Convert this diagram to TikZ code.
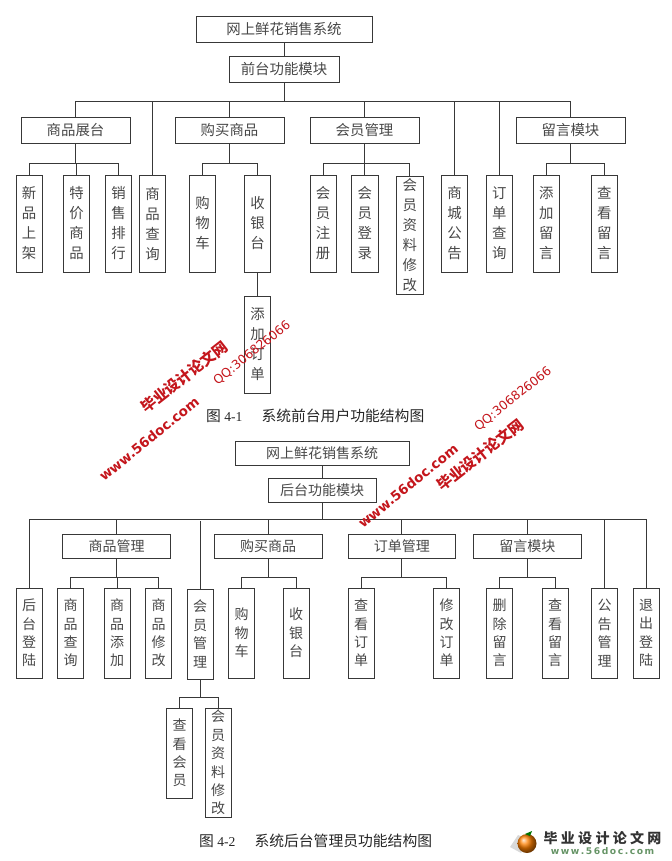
\documentclass[tikz,border=0pt]{standalone}
\usepackage{fontspec}
\setmainfont{Liberation Serif}
\newfontfamily\cjk{Noto Sans CJK SC}
\newfontfamily\wm{DejaVu Sans}
\usetikzlibrary{calc}
\definecolor{ink}{gray}{0.22}
\definecolor{txt}{gray}{0.28}
\definecolor{wred}{HTML}{C4161C}
\tikzset{
  x=1bp,y=-1bp,
  box/.style={draw=ink,line width=0.95bp,inner sep=0pt,align=center,text=txt,font=\cjk\fontsize{14.4bp}{20bp}\selectfont},
  smallbox/.style={box,font=\cjk\fontsize{14bp}{18.4bp}\selectfont},
  link/.style={draw=ink,line width=0.95bp},
  figcap/.style={inner sep=0pt,anchor=west,text=black!85,font=\fontsize{13.6bp}{16bp}\selectfont},
  wmcn/.style={inner sep=0pt,rotate=38,text=wred,font=\cjk\bfseries\fontsize{15bp}{16bp}\selectfont},
  wmweb/.style={inner sep=0pt,rotate=39,text=wred,font=\wm\bfseries\fontsize{13.5bp}{14bp}\selectfont},
  wmqq/.style={inner sep=0pt,rotate=39,text=wred,font=\wm\fontsize{12.4bp}{13bp}\selectfont},
}
% \bx[style]{name}{x1}{y1}{x2}{y2}{text}
\newcommand{\bx}[7][box]{%
  \node[#1,minimum width=#5bp-#3bp,minimum height=#6bp-#4bp] (#2) at ({(#3+#5)/2},{(#4+#6)/2}) {#7};}
% \tree{parent}{child}{bus y}
\newcommand{\tree}[3]{\draw[link] (#1.south) -- (#1.south |- 0,#3) -| (#2.north);}
\newcommand{\capcjk}[1]{{\cjk\fontsize{14.8bp}{16bp}\selectfont #1}}
\begin{document}
\begin{tikzpicture}
\useasboundingbox (0,0) rectangle (672,861);
% ---------- figure 4-1
\bx{tA}{196}{16}{372}{42}{网上鲜花销售系统}
\bx{tB}{229}{56}{339}{82}{前台功能模块}
\bx{a1}{21}{117}{130}{143}{商品展台}
\bx{a2}{175}{117}{284}{143}{购买商品}
\bx{a3}{310}{117}{419}{143}{会员管理}
\bx{a4}{516}{117}{625}{143}{留言模块}
\bx{b1}{16}{175}{42}{272}{新\\品\\上\\架}
\bx{b2}{63.5}{175}{89.5}{272}{特\\价\\商\\品}
\bx{b3}{105.5}{175}{131.5}{272}{销\\售\\排\\行}
\bx{b4}{139.5}{175}{165.5}{272}{商\\品\\查\\询}
\bx{b5}{189.5}{175}{215.5}{272}{购\\物\\车}
\bx{b6}{244.5}{175}{270.5}{272}{收\\银\\台}
\bx{b7}{310}{175}{336}{272}{会\\员\\注\\册}
\bx{b8}{351.5}{175}{378}{272}{会\\员\\登\\录}
\bx{b9}{396.5}{176}{423}{294}{会\\员\\资\\料\\修\\改}
\bx{b10}{441.5}{175}{467.5}{272}{商\\城\\公\\告}
\bx{b11}{486}{175}{512.5}{272}{订\\单\\查\\询}
\bx{b12}{533}{175}{559.5}{272}{添\\加\\留\\言}
\bx{b13}{591}{175}{617.5}{272}{查\\看\\留\\言}
\bx{c1}{244.5}{296}{270.5}{393}{添\\加\\订\\单}
\draw[link] (tA) -- (tB);
\foreach \c in {a1,a2,a3,a4,b4,b10,b11} {\tree{tB}{\c}{101}}
\foreach \c in {b1,b2,b3} {\tree{a1}{\c}{163}}
\foreach \c in {b5,b6} {\tree{a2}{\c}{163}}
\foreach \c in {b7,b8,b9} {\tree{a3}{\c}{163}}
\foreach \c in {b12,b13} {\tree{a4}{\c}{163}}
\draw[link] (b6) -- (c1);
\node[figcap] (capA) at (206,416) {\capcjk{图} 4-1\hspace{19bp}\capcjk{系统前台用户功能结构图}};
% ---------- figure 4-2
\bx[smallbox]{uA}{235}{441}{409}{465}{网上鲜花销售系统}
\bx[smallbox]{uB}{268}{478}{376}{502}{后台功能模块}
\bx[smallbox]{d1}{62.5}{534.5}{170.5}{558.5}{商品管理}
\bx[smallbox]{d2}{214}{534.5}{322}{558.5}{购买商品}
\bx[smallbox]{d3}{348}{534.5}{455.5}{558.5}{订单管理}
\bx[smallbox]{d4}{473}{534.5}{581.5}{558.5}{留言模块}
\bx[smallbox]{e1}{16}{588}{42}{678}{后\\台\\登\\陆}
\bx[smallbox]{e2}{57.5}{588}{83.5}{678}{商\\品\\查\\询}
\bx[smallbox]{e3}{104}{588}{130}{678}{商\\品\\添\\加}
\bx[smallbox]{e4}{145.5}{588}{171.5}{678}{商\\品\\修\\改}
\bx[smallbox]{e5}{187}{589}{213}{679}{会\\员\\管\\理}
\bx[smallbox]{e6}{228.5}{588}{254.5}{678}{购\\物\\车}
\bx[smallbox]{e7}{283}{588}{309}{678}{收\\银\\台}
\bx[smallbox]{e8}{348}{588}{374}{678}{查\\看\\订\\单}
\bx[smallbox]{e9}{433.5}{588}{459.5}{678}{修\\改\\订\\单}
\bx[smallbox]{e10}{486.5}{588}{512.5}{678}{删\\除\\留\\言}
\bx[smallbox]{e11}{542}{588}{568}{678}{查\\看\\留\\言}
\bx[smallbox]{e12}{591.5}{588}{617.5}{678}{公\\告\\管\\理}
\bx[smallbox]{e13}{633}{588}{659}{678}{退\\出\\登\\陆}
\bx[smallbox]{f1}{166.5}{708}{192.5}{798}{查\\看\\会\\员}
\bx[smallbox]{f2}{205}{708}{231}{817}{会\\员\\资\\料\\修\\改}
\draw[link] (uA) -- (uB);
\foreach \c in {e1,d1,d2,d3,d4,e12,e13} {\tree{uB}{\c}{519}}
\coordinate (mgrTop) at (200,521);
\draw[link] (mgrTop) -- (e5);
\foreach \c in {e2,e3,e4} {\tree{d1}{\c}{577}}
\foreach \c in {e6,e7} {\tree{d2}{\c}{577}}
\foreach \c in {e8,e9} {\tree{d3}{\c}{577}}
\foreach \c in {e10,e11} {\tree{d4}{\c}{577}}
\foreach \c in {f1,f2} {\tree{e5}{\c}{697}}
\node[figcap] (capB) at (199,841) {\capcjk{图} 4-2\hspace{19bp}\capcjk{系统后台管理员功能结构图}};
% ---------- watermarks
\node[wmcn] (w1) at (184,377) {毕业设计论文网};
\node[wmweb] (w2) at (149,439) {www.56doc.com};
\node[wmqq] (w3) at (252,353) {QQ:306826066};
\node[wmcn] (w4) at (480,455) {毕业设计论文网};
\node[wmweb] (w5) at (408,486) {www.56doc.com};
\node[wmqq] (w6) at (513,399) {QQ:306826066};
% ---------- logo
\fill[gray!30] (510,847) -- (518,835) -- (530,840) -- (521,853) -- cycle;
\shade[ball color=orange] (527,843.5) circle (9.5);
\fill[green!45!black] (525,834) -- (532,831) -- (530,836) -- cycle;
\node[inner sep=0pt,anchor=center,text=black!80,font=\cjk\bfseries\fontsize{14bp}{14bp}\selectfont] (l1) at (602.5,838.5) {毕\hspace{3.3bp}业\hspace{3.3bp}设\hspace{3.3bp}计\hspace{3.3bp}论\hspace{3.3bp}文\hspace{3.3bp}网};
\node[inner sep=0pt,anchor=center,text=green!30!black!60,font=\wm\bfseries\fontsize{9.2bp}{10bp}\selectfont] (l2) at (602.5,851.5) {w\,w\,w\,.\,5\,6\,d\,o\,c\,.\,c\,o\,m};
\end{tikzpicture}
\end{document}
